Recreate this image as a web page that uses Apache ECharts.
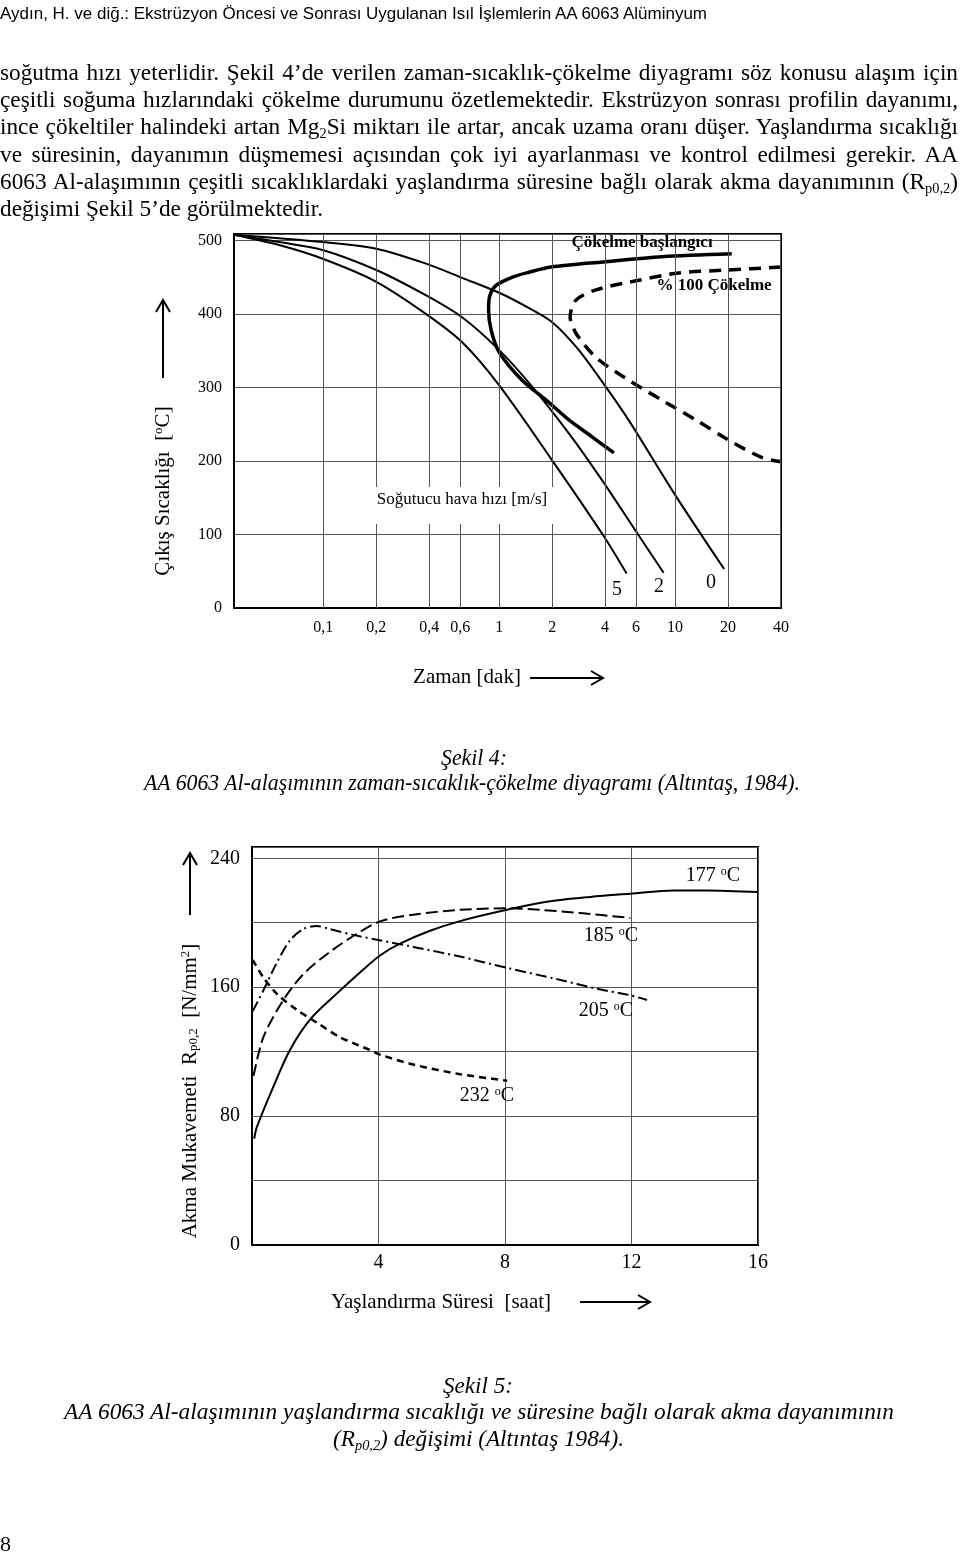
<!DOCTYPE html>
<html>
<head>
<meta charset="utf-8">
<script src="https://cdn.jsdelivr.net/npm/echarts@6/dist/echarts.min.js"></script>
<style>
  html, body { margin:0; padding:0; background:#fff; }
  body { width:960px; height:1559px; position:relative; overflow:hidden; }
  #chart { position:absolute; left:0; top:0; width:960px; height:1559px; }
  .ln { position:absolute; white-space:nowrap; font-family:'Liberation Serif', 'DejaVu Serif', serif; font-size:23px; line-height:28px; height:28px; color:#000; transform-origin:0 50%; }
  .it { font-style:italic; font-size:24px; }
  .hd { font-family:'Liberation Sans', Arial, sans-serif; font-size:17px; line-height:20px; height:20px; }
  .pg { font-size:22px; }
  sub { font-size:0.62em; vertical-align:-0.3em; line-height:0; }
</style>
</head>
<body>
<div id="chart"></div>

<div class="ln hd" data-mode="fit" data-l="0" data-w="707" data-y="14">Aydın, H. ve diğ.: Ekstrüzyon Öncesi ve Sonrası Uygulanan Isıl İşlemlerin AA 6063 Alüminyum</div>

<div class="ln" data-mode="just" data-l="0" data-w="958" data-y="73">soğutma hızı yeterlidir. Şekil 4’de verilen zaman-sıcaklık-çökelme diyagramı söz konusu alaşım için</div>
<div class="ln" data-mode="just" data-l="0" data-w="958" data-y="100">çeşitli soğuma hızlarındaki çökelme durumunu özetlemektedir. Ekstrüzyon sonrası profilin dayanımı,</div>
<div class="ln" data-mode="just" data-l="0" data-w="958" data-y="127">ince çökeltiler halindeki artan Mg<sub>2</sub>Si miktarı ile artar, ancak uzama oranı düşer. Yaşlandırma sıcaklığı</div>
<div class="ln" data-mode="just" data-l="0" data-w="958" data-y="155">ve süresinin, dayanımın düşmemesi açısından çok iyi ayarlanması ve kontrol edilmesi gerekir. AA</div>
<div class="ln" data-mode="just" data-l="0" data-w="958" data-y="182">6063 Al-alaşımının çeşitli sıcaklıklardaki yaşlandırma süresine bağlı olarak akma dayanımının (R<sub>p0,2</sub>)</div>
<div class="ln" id="l6" data-mode="left" data-l="0" data-w="323" data-y="209">değişimi Şekil 5’de görülmektedir.</div>

<div class="ln it" data-mode="fit" data-l="441" data-w="66" data-y="757">Şekil 4:</div>
<div class="ln it" data-mode="fit" data-l="144" data-w="656" data-y="782">AA 6063 Al-alaşımının zaman-sıcaklık-çökelme diyagramı (Altıntaş, 1984).</div>

<div class="ln it" data-mode="fit" data-l="443" data-w="70" data-y="1385">Şekil 5:</div>
<div class="ln it" data-mode="fit" data-l="64" data-w="830" data-y="1411">AA 6063 Al-alaşımının yaşlandırma sıcaklığı ve süresine bağlı olarak akma dayanımının</div>
<div class="ln it" data-mode="fit" data-l="333" data-w="291" data-y="1438">(R<sub>p0,2</sub>) değişimi (Altıntaş 1984).</div>

<div class="ln pg" data-mode="none" data-l="0" data-w="10" data-y="1544">8</div>

<script>
// ---------------- DATA ----------------
// Şekil 4: time axis (minutes, logarithmic) and temperature axis
const fig4TickTimes  = [0.1, 0.2, 0.4, 0.6, 1, 2, 4, 6, 10, 20, 40];
const fig4TickLabels = ['0,1', '0,2', '0,4', '0,6', '1', '2', '4', '6', '10', '20', '40'];
const fig4TempTicks  = [0, 100, 200, 300, 400, 500];

// cooling curves [time (min), temperature (°C)] for cooling-air speed 0, 2, 5 m/s
const cool0 = [[0.031,508],[0.1,498],[0.2,489],[0.38,469],[0.62,449],[1,429],[1.48,408],[2,389],[2.77,354],[3.9,306],[5.5,254],[10,154],[19,53]];
const cool2 = [[0.031,508],[0.056,498],[0.1,487],[0.2,460],[0.38,426],[0.62,395],[1,351],[1.48,306],[2.5,237],[3.84,174],[6.2,99],[8.6,48]];
const cool5 = [[0.031,508],[0.056,494],[0.1,475],[0.2,444],[0.39,399],[0.62,361],[1,303],[2,201],[3.9,99],[5.3,47]];

// precipitation start curve (Çökelme başlangıcı)
const precipStart = [[21,482],[8.4,478],[3.9,471],[1.97,464],[1.48,457],[1.18,450],[0.96,439],[0.88,423],[0.87,405],[0.9,378],[1,348],[1.35,310],[1.85,283],[2.49,256],[3.37,233],[4.49,211]];
// 100 % precipitation curve
const precip100 = [[40,464],[20,460],[10.5,456],[6.2,446],[3.55,433],[2.73,419],[2.53,396],[2.73,374],[3.55,341],[5.46,310],[8.4,283],[13.1,256],[20,229],[31,205],[40,199]];

// Şekil 5: ageing time (h) vs yield strength Rp0,2 (N/mm2)
const fig5HourTicks     = [0, 4, 8, 12, 16];
const fig5StrengthTicks = [0, 80, 160, 240];
const age177 = [[0.07,66],[0.15,73],[0.67,98],[1.2,121],[1.84,140],[2.68,156],[3.52,171],[4.07,180],[4.68,187],[5.63,195],[6.58,201],[8.06,208],[9.33,213],[10.7,216],[11.96,218],[13.33,220],[14.39,220],[16,219]];
const age185 = [[0.05,105],[0.36,129],[0.99,152],[1.62,168],[2.47,182],[3.31,193],[4.07,201],[5.1,205],[6.58,208],[8.06,209],[9.11,208],[10.38,206],[11.96,203]];
const age205 = [[0.02,145],[0.36,158],[0.78,175],[1.2,189],[1.62,196],[2.05,198],[2.47,196],[3.31,192],[4.07,189],[5.1,185],[6.58,179],[8.06,172],[9.64,165],[10.91,159],[11.96,155],[12.49,152]];
const age232 = [[0.02,177],[0.36,166],[0.78,156],[1.41,146],[2.05,138],[2.78,129],[3.73,121],[4.07,118],[5.1,112],[6.58,106],[8.07,102]];

// ---------------- TEXT LAYOUT ----------------
function layoutText() {
  const items = Array.from(document.querySelectorAll('.ln'));
  items.forEach(el => {
    const h = parseFloat(getComputedStyle(el).height);
    el.style.top = (+el.dataset.y - h / 2) + 'px';
    el.style.left = el.dataset.l + 'px';
  });
  const nat = el => el.getBoundingClientRect().width;
  const S = 323 / nat(document.getElementById('l6'));
  items.forEach(el => {
    const mode = el.dataset.mode, W = +el.dataset.w, n = nat(el);
    let s = 1;
    if (mode === 'just') {
      s = Math.min(S, W / n);
      const sp = (el.textContent.match(/ /g) || []).length;
      const extra = W / s - n;
      if (sp && extra > 0) el.style.wordSpacing = (extra / sp) + 'px';
    } else if (mode === 'left') {
      s = S;
    } else if (mode === 'fit') {
      s = W / n;
    }
    el.style.transform = 'scaleX(' + s + ')';
  });
}
layoutText();

// ---------------- CHART ----------------
const FONT = 'Liberation Serif';
const L = Math.log10;
const LOGMAX = L(40);
const LOGMIN = LOGMAX - 3.11;

function lineSeries(data, xi, width, type, toX) {
  return {
    type: 'line', xAxisIndex: xi, yAxisIndex: xi,
    data: data.map(p => [toX(p[0]), p[1]]),
    smooth: 0.3, symbol: 'none', silent: true, z: 3,
    lineStyle: { color: '#000', width: width, type: type || 'solid', cap: 'butt' }
  };
}

const labelStyle = { fontFamily: FONT, color: '#000' };

const option = {
  animation: false,
  grid: [
    { left: 234, top: 234, width: 547, height: 374, show: true, borderColor: '#000', borderWidth: 2, containLabel: false, outerBoundsMode: 'none' },
    { left: 252, top: 847, width: 506, height: 398, show: true, borderColor: '#000', borderWidth: 2, containLabel: false, outerBoundsMode: 'none' }
  ],
  xAxis: [
    {
      gridIndex: 0, type: 'value', min: LOGMIN, max: LOGMAX,
      axisLine: { show: true, onZero: false, lineStyle: { color: '#000', width: 2 } },
      axisTick: { show: false }, splitLine: { show: false },
      axisLabel: Object.assign({}, labelStyle, {
        fontSize: 16, margin: 12,
        customValues: fig4TickTimes.map(L),
        formatter: v => {
          const i = fig4TickTimes.findIndex(t => Math.abs(L(t) - v) < 1e-6);
          return i >= 0 ? fig4TickLabels[i] : '';
        }
      })
    },
    {
      gridIndex: 1, type: 'value', min: 0, max: 16, interval: 4,
      axisLine: { show: true, onZero: false, lineStyle: { color: '#000', width: 2 } },
      axisTick: { show: false },
      splitLine: { show: true, lineStyle: { color: '#555', width: 1 } },
      axisLabel: Object.assign({}, labelStyle, {
        fontSize: 20, margin: 8,
        formatter: v => (fig5HourTicks.indexOf(v) > 0 ? String(v) : '')
      })
    }
  ],
  yAxis: [
    {
      gridIndex: 0, type: 'value', min: 0, max: 509, interval: 100,
      axisLine: { show: true, onZero: false, lineStyle: { color: '#000', width: 2 } },
      axisTick: { show: false },
      splitLine: { show: true, lineStyle: { color: '#555', width: 1 } },
      axisLabel: Object.assign({}, labelStyle, {
        fontSize: 16, margin: 12,
        formatter: v => (fig4TempTicks.indexOf(v) >= 0 ? String(v) : '')
      })
    },
    {
      gridIndex: 1, type: 'value', min: 0, max: 247, interval: 40,
      axisLine: { show: true, onZero: false, lineStyle: { color: '#000', width: 2 } },
      axisTick: { show: false },
      splitLine: { show: true, lineStyle: { color: '#555', width: 1 } },
      axisLabel: Object.assign({}, labelStyle, {
        fontSize: 20, margin: 12,
        formatter: v => (fig5StrengthTicks.indexOf(v) >= 0 ? String(v) : '')
      })
    }
  ],
  series: [
    // vertical grid lines of Şekil 4 at the logarithmic ticks
    {
      type: 'line', xAxisIndex: 0, yAxisIndex: 0, z: 1, silent: true,
      data: fig4TickTimes.map(t => [L(t), 0]), symbol: 'none',
      lineStyle: { opacity: 0 },
      markLine: {
        silent: true, symbol: ['none', 'none'], animation: false,
        label: { show: false },
        lineStyle: { color: '#555', width: 1, type: 'solid' },
        emphasis: { disabled: true },
        data: fig4TickTimes.map(t => ({ xAxis: L(t) }))
      }
    },
    lineSeries(cool0, 0, 2, 'solid', L),
    lineSeries(cool2, 0, 2, 'solid', L),
    lineSeries(cool5, 0, 2, 'solid', L),
    lineSeries(precipStart, 0, 3.5, 'solid', L),
    lineSeries(precip100, 0, 3.5, [12, 8], L),
    lineSeries(age177, 1, 2, 'solid', v => v),
    lineSeries(age185, 1, 2, [12, 5], v => v),
    lineSeries(age205, 1, 2, [11, 4, 2, 4], v => v),
    lineSeries(age232, 1, 2.5, [7, 5], v => v)
  ],
  graphic: []
};

function txt(x, y, text, size, opts) {
  opts = opts || {};
  const rich = {
    n: { fontFamily: FONT, fontSize: size, fill: '#000', color: '#000', fontWeight: opts.bold ? 'bold' : 'normal' },
    s: { fontFamily: FONT, fontSize: Math.round(size * 0.62), fill: '#000', color: '#000', verticalAlign: 'top' },
    b: { fontFamily: FONT, fontSize: Math.round(size * 0.62), fill: '#000', color: '#000', verticalAlign: 'bottom' }
  };
  return {
    type: 'text', x: x, y: y, rotation: opts.rot || 0, z: 100, silent: true,
    style: {
      text: text, rich: rich,
      font: (opts.bold ? 'bold ' : '') + size + 'px "' + FONT + '"',
      fill: '#000',
      align: 'center', verticalAlign: 'middle',
      textAlign: 'center', textVerticalAlign: 'middle'
    }
  };
}
function arrow(x1, y1, x2, y2) {
  const ang = Math.atan2(y2 - y1, x2 - x1), len = 12, w = 7;
  const bx = x2 - len * Math.cos(ang), by = y2 - len * Math.sin(ang);
  const px = -Math.sin(ang) * w, py = Math.cos(ang) * w;
  return [
    { type: 'line', z: 100, silent: true, shape: { x1: x1, y1: y1, x2: x2, y2: y2 }, style: { stroke: '#000', lineWidth: 2 } },
    { type: 'polyline', z: 100, silent: true, shape: { points: [[bx + px, by + py], [x2, y2], [bx - px, by - py]] }, style: { stroke: '#000', lineWidth: 2, fill: null } }
  ];
}

option.graphic = [
  // Şekil 4 annotations
  { type: 'rect', z: 90, silent: true, shape: { x: 370, y: 487, width: 188, height: 37 }, style: { fill: '#fff' } },
  txt(462, 500, '{n|Soğutucu hava hızı [m/s]}', 17),
  txt(642, 243, '{n|Çökelme başlangıcı}', 17, { bold: true }),
  txt(714, 286, '{n|% 100 Çökelme}', 17, { bold: true }),
  txt(617, 590, '{n|5}', 20),
  txt(659, 587, '{n|2}', 20),
  txt(711, 583, '{n|0}', 20),
  txt(163, 491, '{n|Çıkış Sıcaklığı  [}{s|o}{n|C]}', 21, { rot: Math.PI / 2 }),
  txt(467, 677, '{n|Zaman [dak]}', 21),
  ...arrow(163, 378, 163, 300),
  ...arrow(530, 678, 603, 678),
  // Şekil 5 annotations
  txt(713, 876, '{n|177 }{s|o}{n|C}', 20),
  txt(611, 936, '{n|185 }{s|o}{n|C}', 20),
  txt(606, 1011, '{n|205 }{s|o}{n|C}', 20),
  txt(487, 1096, '{n|232 }{s|o}{n|C}', 20),
  txt(190, 1091, '{n|Akma Mukavemeti  R}{b|p0,2}{n|  [N/mm}{s|2}{n|]}', 21, { rot: Math.PI / 2 }),
  txt(441, 1302, '{n|Yaşlandırma Süresi  [saat]}', 21),
  ...arrow(190, 915, 190, 853),
  ...arrow(580, 1302, 650, 1302)
];

const chart = echarts.init(document.getElementById('chart'), null, { renderer: 'canvas', width: 960, height: 1559 });
chart.setOption(option);
</script>
</body>
</html>
